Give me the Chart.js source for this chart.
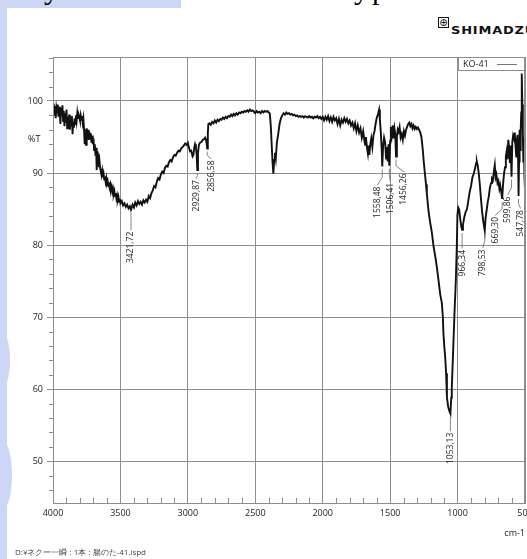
<!DOCTYPE html>
<html>
<head>
<meta charset="utf-8">
<script src="https://cdn.jsdelivr.net/npm/chart.js@4.4.1/dist/chart.umd.min.js"></script>
<style>
  html, body { margin: 0; padding: 0; background: #fff; }
  body { width: 527px; height: 559px; position: relative; overflow: hidden; font-family: "Open Sans", sans-serif; }
  .blue { position: absolute; background: #cdd6f6; }
  #chart { position: absolute; left: 0; top: 0; }
  .frag { position: absolute; top: -26px; font-family: "Liberation Serif", serif; font-size: 30px; line-height: 30px; color: #000; }
  #logo { position: absolute; left: 438px; top: 17px; white-space: nowrap; }
  #logo .box { display: inline-block; width: 9px; height: 9px; border: 1px solid #111; font: 10px/9px "DejaVu Sans", sans-serif; text-align: center; vertical-align: top; }
  #logo .name { display: inline-block; font: bold 10px/11px "DejaVu Sans", sans-serif; letter-spacing: 0.6px; transform: scaleX(1.3); transform-origin: left top; margin-left: 2px; color: #111; }
  #path { position: absolute; left: 15px; top: 547px; font-size: 8px; line-height: 10px; color: #444; white-space: nowrap; }
</style>
</head>
<body>
<div class="blue" style="left:0;top:0;width:181px;height:8px"></div>
<div class="blue" style="left:0;top:0;width:7px;height:559px"></div>
<div class="blue" style="left:-8px;top:330px;width:18px;height:60px;border-radius:50%"></div>
<div class="blue" style="left:-8px;top:440px;width:20px;height:70px;border-radius:50%"></div>
<div class="frag" style="left:44px">y</div>
<div class="frag" style="left:354px">y</div>
<div class="frag" style="left:372px">p</div>
<div id="logo"><span class="box">⊕</span><span class="name">SHIMADZU</span></div>
<canvas id="chart" width="527" height="559"></canvas>
<div id="path">D:¥ネクー一瞬 : 1本 : 腸のた-41.ispd</div>
<script>
// spectrum, [wavenumber cm-1, %T]
const ohRegion = [
  [4000,98.2],[3995,99.6],[3990,98.0],[3985,99.3],[3980,97.6],[3975,99.0],[3970,98.4],[3965,99.5],[3960,97.8],[3955,99.2],
  [3950,98.5],[3945,96.8],[3940,99.1],[3935,98.0],[3930,99.4],[3925,97.2],[3920,98.6],[3915,96.5],[3910,98.3],[3905,97.0],
  [3900,98.8],[3895,96.2],[3890,97.8],[3885,96.9],[3880,98.1],[3875,96.0],[3870,97.4],[3865,96.6],[3860,97.9],[3855,95.4],
  [3850,97.1],[3845,96.3],[3840,97.6],[3835,96.8],[3830,98.0],[3825,97.2],[3820,98.3],[3815,97.5],[3810,98.1],[3805,97.7],
  [3800,97.3],[3795,98.0],[3790,97.4],[3785,97.9],[3780,97.0],[3775,97.6],[3770,96.1],[3765,94.0],[3760,95.8],[3755,93.9],
  [3750,96.2],[3745,95.0],[3740,96.0],[3735,94.6],[3730,95.7],[3725,94.8],[3720,95.5],[3715,94.2],[3710,95.2],[3705,94.0],
  [3700,94.8],[3695,93.2],[3690,94.0],[3685,92.4],[3680,93.5],[3676,90.4],[3672,93.0],[3668,91.8],[3664,92.6],[3660,90.8],
  [3655,91.6],[3650,90.6],[3645,90.2],[3640,89.7],[3635,90.3],[3630,89.4],[3625,89.9],[3620,89.1],[3615,89.5],[3610,88.8],
  [3605,89.3],[3600,88.6],[3595,88.9],[3590,88.2],[3585,88.7],[3580,88.0],[3575,88.4],[3570,87.7],[3565,88.1],[3560,87.4],
  [3555,87.8],[3550,87.1],[3545,87.5],[3540,86.8],[3535,87.2],[3530,86.5],[3525,86.9],[3520,86.3],[3515,86.7],[3510,86.0],
  [3505,86.4],[3500,85.8],[3490,86.1],[3480,85.5],[3470,85.8],[3460,85.3],[3450,85.6],[3440,85.1],[3430,85.4],[3421.72,84.9],
  [3410,85.6],[3400,85.2],[3390,85.9],[3380,85.5],[3370,86.1],[3360,85.7],[3350,86.0],[3340,85.6],[3330,86.2],[3320,85.9],
  [3310,86.3],[3300,86.0],[3290,86.8],[3280,86.5],[3270,87.2],[3260,87.6],[3250,88.2],[3240,88.0],[3230,88.8],[3220,89.3],
  [3210,89.1],[3200,89.8],[3190,90.2],[3180,90.0],[3170,90.7],[3160,91.0],[3150,90.9],[3140,91.5],[3130,91.8],[3120,91.6],
  [3110,92.2],[3100,92.5],[3090,92.4],[3080,92.8],[3070,93.1],[3060,93.0],[3050,93.4],[3040,93.6],[3030,93.8],[3020,94.1],
  [3010,93.9]
];
const chRegion = [
  [3000,94.2],[2995,93.7],[2990,93.4],[2984,93.0],[2975,93.1],[2965,92.3],[2959,92.5],[2952,93.6],[2947,94.0],[2940,93.5],
  [2935,92.6],[2929.87,90.4],[2925,92.8],[2918,93.9],[2910,94.2],[2900,94.3],[2890,94.6],[2880,94.7],[2872,94.9],[2865,94.6],
  [2860,94.0],[2856.58,93.4],[2852,95.5],[2848,96.8],[2840,96.9],[2830,96.7],[2820,97.1],[2810,96.9]
];
const midRegion = [
  [2800,97.3],[2790,97.0],[2780,97.4],[2770,97.2],[2760,97.5],[2750,97.4],[2740,97.7],[2730,97.5],[2720,97.8],[2710,97.6],
  [2700,97.9],[2690,97.8],[2680,98.1],[2670,97.9],[2660,98.2],[2650,98.0],[2640,98.3],[2630,98.1],[2620,98.4],[2610,98.3],
  [2600,98.5],[2590,98.4],[2580,98.6],[2570,98.5],[2560,98.7],[2550,98.5],[2540,98.8],[2530,98.6],[2520,98.7],[2510,98.5],
  [2500,98.3],[2490,98.6],[2480,98.4],[2470,98.5],[2460,98.3],[2450,98.6],[2440,98.4],[2430,98.6],[2420,98.5],[2410,98.6],
  [2400,98.4],[2392,98.2],[2385,96.5],[2378,93.8],[2372,91.5],[2366,89.9],[2360,91.8],[2354,92.8],[2348,92.0],[2340,94.2],
  [2330,95.4],[2320,96.8],[2310,97.6],[2300,98.0],[2290,98.3],[2280,98.1],[2270,98.4],[2260,98.2],[2250,98.3],[2240,98.1],
  [2230,98.2],[2220,98.0],[2210,98.1],[2200,97.9],[2190,98.0],[2180,97.8],[2170,97.9],[2160,97.8],[2150,97.9],[2140,97.7],
  [2130,97.9],[2120,97.8],[2110,97.7],[2100,97.9],[2090,97.7],[2080,97.8],[2070,97.6],[2060,97.8],[2050,97.7],[2040,97.9],
  [2030,97.6],[2020,97.8],[2010,97.5]
];
const doubleBondRegion = [
  [2000,97.8],[1990,97.3],[1980,97.8],[1970,97.4],[1960,97.9],[1950,97.2],[1940,97.7],[1930,97.1],[1920,97.8],[1910,97.3],
  [1900,97.6],[1890,96.8],[1880,97.5],[1870,96.6],[1860,97.4],[1850,97.0],[1840,97.6],[1830,97.1],[1820,97.5],[1810,96.9],
  [1800,97.3],[1790,96.6],[1780,97.0],[1770,96.2],[1760,96.9],[1750,95.8],[1740,96.6],[1730,95.6],[1720,96.2],[1710,94.9],
  [1700,95.8],[1690,94.4],[1685,93.9],[1680,95.0],[1672,93.6],[1665,92.7],[1660,93.8],[1654,92.5],[1648,93.9],[1640,94.8],
  [1632,93.6],[1624,95.2],[1616,95.8],[1608,96.8],[1600,97.6],[1590,98.2],[1582,98.8],[1576,97.4],[1569,95.6],[1562,93.0],
  [1558.48,90.9],[1552,93.8],[1545,94.9],[1537,94.2],[1530,92.0],[1525,93.6],[1518,91.6],[1512,94.0],[1506.41,91.0],[1500,94.5],
  [1495,96.4],[1488,95.2],[1481,96.6],[1475,94.8],[1468,96.2],[1462,95.4],[1456.26,92.3],[1450,95.0],[1444,96.0],[1438,95.7],
  [1430,96.4],[1422,94.9],[1414,95.4],[1406,94.6],[1398,95.8],[1390,95.2],[1382,96.0],[1374,96.4],[1366,96.8],[1358,97.0],
  [1350,96.5],[1342,96.8],[1334,96.2],[1326,96.6],[1318,96.1],[1310,96.4],[1302,96.1],[1294,96.3],[1286,96.0]
];
const fingerprintRegion = [
  [1278,95.7],[1268,95.0],[1258,93.2],[1250,91.4],[1241,89.7],[1234,88.4],[1228,87.2],[1216,84.8],[1204,83.2],[1191,81.8],
  [1178,79.8],[1166,78.5],[1154,77.0],[1142,75.2],[1129,73.2],[1117,72.0],[1109,70.0],[1105,67.8],[1098,65.8],[1092,64.5],
  [1085,62.2],[1079,58.9],[1070,57.6],[1062,57.0],[1053.13,56.6],[1047,58.8],[1043,60.1],[1031,66.3],[1023,70.5],[1013,75.0],
  [1006,79.6],[1001,84.2],[995,85.2],[988,84.9],[980,83.6],[972,82.5],[966.34,82.1],[960,82.8],[950,83.9],[940,84.6],
  [930,85.0],[920,86.2],[910,87.4],[900,88.2],[890,89.4],[880,89.9],[870,90.7],[862,91.4],[857,91.6],[850,91.0],
  [842,89.8],[835,88.4],[826,86.3],[818,84.6],[808,83.1],[798.53,82.0],[792,83.8],[784,84.9],[776,86.0],[768,86.8],
  [760,88.0],[752,88.6],[745,89.2],[738,89.0],[731,90.2],[724,91.1],[718,89.4],[712,89.8],[704,88.6],[697,88.9],
  [690,87.8],[684,88.3],[677,87.5],[669.30,86.4],[662,88.6],[655,90.0],[648,90.8],[642,92.3],[636,93.0],[630,91.9],
  [624,94.6],[618,93.5],[612,91.4],[606,93.8],[599.86,89.5],[594,94.3],[588,95.2],[582,94.8],[576,95.6],[570,93.7],
  [565,92.3],[560,94.6],[555,95.3],[551,91.8],[547.78,86.8],[544,91.6],[540,96.0],[536,93.2],[532,95.8],[528,98.4],
  [524,103.8],[520,99.5],[516,95.2],[512,91.6],[508,95.0],[504,89.5],[500,87.6]
];

const peakWavenumbers = [3421.72, 2929.87, 2856.58, 1558.48, 1506.41, 1456.26, 1053.13, 966.34, 798.53, 669.30, 599.86, 547.78];
const peakLabels = ['3421,72', '2929,87', '2856,58', '1558,48', '1506,41', '1456,26', '1053,13', '966,34', '798,53', '669,30', '599,86', '547,78'];

const xTickValues = [4000, 3500, 3000, 2500, 2000, 1500, 1000, 500];
const yTickValues = [50, 60, 70, 80, 90, 100];
const sampleName = 'KO-41';

const spectrum = [...ohRegion, ...chRegion, ...midRegion, ...doubleBondRegion, ...fingerprintRegion]
  .map(p => ({x: p[0], y: p[1]}));

const gridColor = '#8e8e8e';
const textColor = '#222';
const tickFont = {family: 'Open Sans', size: 9};

// label placement: horizontal shift of the text and its distance below the peak, px
const labelDx = [0, -1, 4, -5, 1, 8, 0, 0, -2, -7, -4, 2];
const labelGap = [22, 10, 12, 20, 17, 17, 19, 20, 19, 18, 20, 14];

const decorations = {
	id: 'decorations',
	afterDraw(chart) {
		const {ctx, chartArea: a, scales: {x, y}} = chart;
		ctx.save();

		// frame
		ctx.strokeStyle = gridColor;
		ctx.lineWidth = 1;
		ctx.strokeRect(a.left + 0.5, a.top + 0.5, a.right - a.left - 1, a.bottom - a.top);

		// minor ticks
		ctx.beginPath();
		for (let v = 46; v <= 106; v += 2) {
			if (v % 10 === 0) continue;
			const py = Math.round(y.getPixelForValue(v)) + 0.5;
			ctx.moveTo(a.left - 4, py);
			ctx.lineTo(a.left, py);
		}
		for (let w = 600; w < 4000; w += 100) {
			if (w % 500 === 0) continue;
			const px = Math.round(x.getPixelForValue(w)) + 0.5;
			ctx.moveTo(px, a.bottom);
			ctx.lineTo(px, a.bottom - 5);
		}
		ctx.stroke();

		// axis captions
		ctx.fillStyle = textColor;
		ctx.font = '9px "Open Sans"';
		ctx.textBaseline = 'middle';
		ctx.textAlign = 'left';
		ctx.fillText('%T', 28, y.getPixelForValue(94.7));
		ctx.textAlign = 'right';
		ctx.fillText('cm-1', a.right, 533);

		// legend box
		ctx.fillStyle = '#fff';
		ctx.fillRect(458.5, a.top + 0.5, a.right - 459, 13);
		ctx.strokeRect(458.5, a.top + 0.5, a.right - 459, 13);
		ctx.fillStyle = textColor;
		ctx.textAlign = 'left';
		ctx.fillText(sampleName, 463, a.top + 7);
		ctx.strokeStyle = '#777';
		ctx.beginPath();
		ctx.moveTo(497, a.top + 7.5);
		ctx.lineTo(517, a.top + 7.5);
		ctx.stroke();

		// peak labels
		ctx.strokeStyle = '#666';
		ctx.lineWidth = 0.8;
		ctx.font = '8.5px "Open Sans"';
		peakWavenumbers.forEach((wn, i) => {
			const t = spectrum.find(p => p.x === wn).y;
			const px = x.getPixelForValue(wn);
			const py = y.getPixelForValue(t);
			const tx = px + labelDx[i];
			const ty = py + labelGap[i];
			ctx.beginPath();
			ctx.moveTo(px, py + 3);
			ctx.lineTo(px, py + labelGap[i] * 0.55);
			ctx.lineTo(tx, ty - 1.5);
			ctx.stroke();
			ctx.save();
			ctx.translate(tx, ty);
			ctx.rotate(-Math.PI / 2);
			ctx.textAlign = 'right';
			ctx.textBaseline = 'middle';
			ctx.fillStyle = textColor;
			ctx.fillText(peakLabels[i], 0, 0);
			ctx.restore();
		});
		ctx.restore();
	}
};

const chart = new Chart(document.getElementById('chart'), {
	type: 'line',
	data: {
		datasets: [{
			label: sampleName,
			data: spectrum,
			borderColor: '#111',
			borderWidth: 1.9,
			pointRadius: 0,
			tension: 0,
			fill: false
		}]
	},
	options: {
		responsive: false,
		animation: false,
		layout: {padding: {left: 0, top: 57, right: 2, bottom: 0}},
		plugins: {legend: {display: false}, tooltip: {enabled: false}},
		scales: {
			x: {
				type: 'linear',
				reverse: true,
				min: 500,
				max: 4000,
				afterBuildTicks: s => { s.ticks = xTickValues.map(v => ({value: v})); },
				afterFit: s => { s.height = 56; s.paddingLeft = 0; s.paddingRight = 0; },
				grid: {color: gridColor, drawTicks: false},
				border: {color: gridColor},
				ticks: {padding: 5, color: textColor, font: tickFont, maxRotation: 0, autoSkip: false, callback: v => String(v)}
			},
			y: {
				min: 44.2,
				max: 106.1,
				afterBuildTicks: s => { s.ticks = yTickValues.map(v => ({value: v})); },
				afterFit: s => { s.width = 53; s.paddingTop = 0; s.paddingBottom = 0; },
				grid: {color: gridColor, tickLength: 6},
				border: {color: gridColor},
				ticks: {padding: 4, color: textColor, font: tickFont, callback: v => String(v)}
			}
		}
	},
	plugins: [decorations]
});
</script>
</body>
</html>
